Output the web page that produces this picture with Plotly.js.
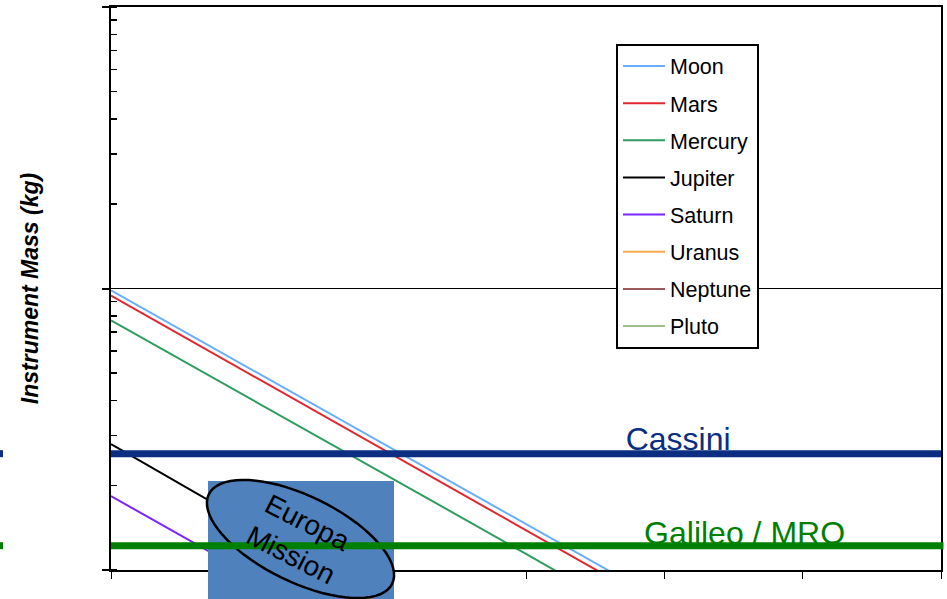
<!DOCTYPE html>
<html>
<head>
<meta charset="utf-8">
<script src="https://cdn.plot.ly/plotly-3.0.1.min.js"></script>
<style>
  html, body { margin: 0; padding: 0; background: #ffffff; }
  #chart { width: 947px; height: 599px; }
</style>
</head>
<body>
<div id="chart"></div>
<script>
// Instrument mass budget by destination, with reference missions
const xSteps   = [0, 0.5, 1, 1.5, 2, 2.5, 3, 3.5, 4];
const moon     = [98.4, 71.6, 52.1, 37.9, 27.5, 20.0, 14.6, 10.6, 7.7];
const mars     = [94.4, 68.6, 49.8, 36.2, 26.3, 19.1, 13.9, 10.1, 7.3];
const mercury  = [77.0, 56.1, 40.8, 29.7, 21.6, 15.7, 11.4, 8.3, 6.0];
const jupiter  = [28.0, 20.2, 14.6, 10.5, 7.6, 5.5, 4.0, 2.9, 2.1];
const saturn   = [18.3, 13.3, 9.7, 7.0, 5.1, 3.7, 2.7, 1.9, 1.4];
const uranus   = [8.6, 6.2, 4.5, 3.3, 2.4, 1.7, 1.2, 0.9, 0.65];
const neptune  = [7.1, 5.2, 3.8, 2.7, 2.0, 1.4, 1.0, 0.75, 0.55];
const pluto    = [3.9, 2.8, 2.0, 1.5, 1.1, 0.8, 0.58, 0.42, 0.3];

const seriesNames  = ['Moon', 'Mars', 'Mercury', 'Jupiter', 'Saturn', 'Uranus', 'Neptune', 'Pluto'];
const seriesValues = [moon, mars, mercury, jupiter, saturn, uranus, neptune, pluto];
const seriesColors = ['#69aefc', '#e0282e', '#2f9d5f', '#000000', '#7a24ff', '#ffa94d', '#9c5a5a', '#9fc08e'];

// Reference missions (instrument mass, kg)
const missionNames  = ['Cassini', 'Galileo / MRO'];
const missionMasses = [25.9, 12.2];
const missionColors = ['#0b2e82', '#008000'];

const FONT = 'Arial, "Liberation Sans", sans-serif';

const traces = seriesNames.map((name, i) => ({
  type: 'scatter',
  mode: 'lines',
  name: name,
  legendgroup: name,
  x: xSteps,
  y: seriesValues[i],
  line: { color: seriesColors[i], width: 2 },
  hoverinfo: 'skip'
}));

// Plot area geometry (px) used for label offsets and the callout drawing
const L = 111, R = 941, T = 7, B = 570;
const DECADE_PX = (B - T) / 2;
const px2x = px => (px - L) / (R - L);
const py2y = py => (B - py) / (B - T);

// Mission labels sit on their reference lines, letting the line clip the text foot
const labelX = [4.10, 4.58];
const labelDropPx = [4, 6];
missionNames.forEach((name, i) => {
  traces.push({
    type: 'scatter',
    mode: 'text',
    x: [labelX[i]],
    y: [missionMasses[i] * Math.pow(10, -labelDropPx[i] / DECADE_PX)],
    text: [name],
    textposition: 'top center',
    textfont: { family: FONT, size: 32, color: missionColors[i] },
    showlegend: false,
    hoverinfo: 'skip'
  });
});

// Rotated ellipse outline for the Europa callout
function ellipsePath(cx, cy, a, b, deg) {
  const phi = deg * Math.PI / 180;
  const pts = [];
  for (let k = 0; k <= 72; k++) {
    const t = 2 * Math.PI * k / 72;
    const x = cx + a * Math.cos(t) * Math.cos(phi) - b * Math.sin(t) * Math.sin(phi);
    const y = cy + a * Math.cos(t) * Math.sin(phi) + b * Math.sin(t) * Math.cos(phi);
    pts.push(px2x(x).toFixed(5) + ',' + py2y(y).toFixed(5));
  }
  return 'M' + pts.join(' L') + ' Z';
}

const shapes = [
  // Europa mission box
  {
    type: 'rect', xref: 'paper', yref: 'paper', layer: 'above',
    x0: px2x(208), x1: px2x(394), y0: py2y(481), y1: py2y(610),
    fillcolor: '#4f81bd', line: { width: 0 }
  },
  {
    type: 'path', xref: 'paper', yref: 'paper', layer: 'above',
    path: ellipsePath(300.5, 539, 102, 43, 26),
    line: { color: '#000000', width: 2.5 }
  }
];

missionMasses.forEach((m, i) => {
  shapes.push({
    type: 'line', xref: 'paper', yref: 'y', layer: 'above',
    x0: 0, x1: i === 1 ? 1.003 : 1, y0: m, y1: m,
    line: { color: missionColors[i], width: 7 }
  });
  shapes.push({
    type: 'line', xref: 'paper', yref: 'y', layer: 'above',
    x0: px2x(0), x1: px2x(3), y0: m, y1: m,
    line: { color: missionColors[i], width: 7 }
  });
});

const layout = {
  width: 947,
  height: 599,
  margin: { l: L, r: 947 - R, t: T, b: 599 - B, pad: 0 },
  paper_bgcolor: '#ffffff',
  plot_bgcolor: '#ffffff',
  font: { family: FONT, color: '#000000' },
  showlegend: true,
  legend: {
    x: px2x(616), y: py2y(43.5), xanchor: 'left', yanchor: 'top',
    bgcolor: '#ffffff', bordercolor: '#000000', borderwidth: 2,
    font: { family: FONT, size: 21.5, color: '#000000' },
    itemwidth: 42,
    tracegroupgap: 6.2
  },
  xaxis: {
    range: [0, 6], tick0: 0, dtick: 1,
    showticklabels: false,
    ticks: 'outside', ticklen: 7, tickwidth: 1, tickcolor: '#000000',
    showline: true, linecolor: '#000000', linewidth: 2, mirror: true,
    showgrid: false, zeroline: false
  },
  yaxis: {
    type: 'log', range: [1, 3], dtick: 1,
    showticklabels: false,
    ticks: 'outside', ticklen: 7, tickwidth: 2, tickcolor: '#000000',
    showline: true, linecolor: '#000000', linewidth: 2, mirror: true,
    showgrid: true, gridcolor: '#000000', gridwidth: 1,
    zeroline: false,
    minor: { ticks: 'inside', ticklen: 6, tickwidth: 1.5, tickcolor: '#000000', dtick: 'D1', showgrid: false },
    title: {
      text: 'Instrument Mass (kg)',
      font: { family: FONT, size: 23, weight: 'bold', style: 'italic', color: '#000000' },
      standoff: 57
    }
  },
  shapes: shapes,
  annotations: [
    {
      xref: 'paper', yref: 'paper',
      x: px2x(299), y: py2y(538),
      text: 'Europa<br>Mission',
      showarrow: false,
      textangle: 27,
      font: { family: FONT, size: 28, color: '#000000' },
      xanchor: 'center', yanchor: 'middle'
    }
  ]
};

Plotly.newPlot('chart', traces, layout, { displayModeBar: false, staticPlot: true });
</script>
</body>
</html>
